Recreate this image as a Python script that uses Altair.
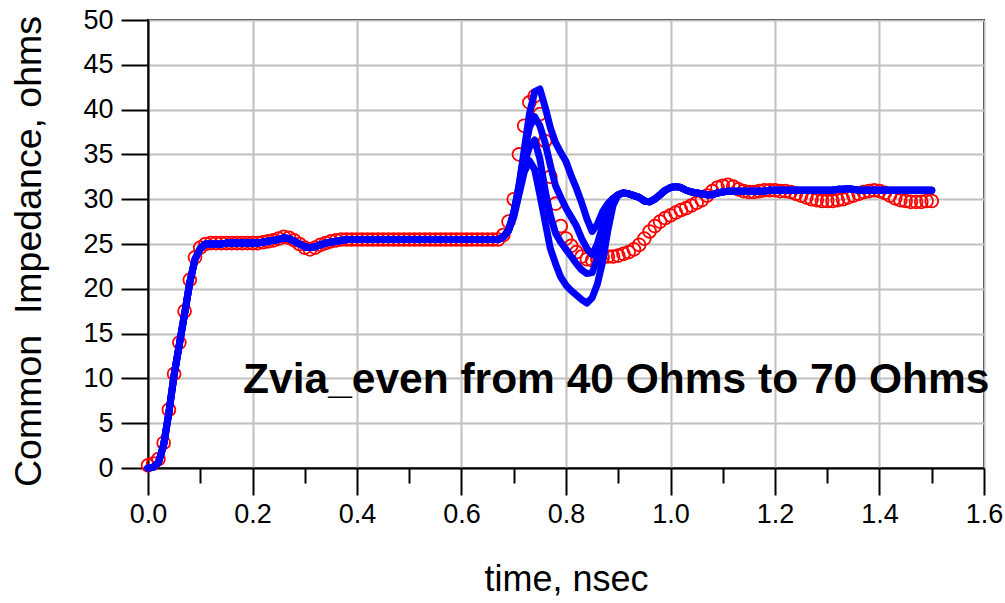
import altair as alt
import pandas as pd

# ---------------- data ----------------
# sampling grid (ns), 0.00 .. 1.50 every 0.01
times = [round(i * 0.01, 2) for i in range(151)]

# measured (red circles), t = 0.00 .. 1.50
red_values = [
    0.3, 0.5, 1.0, 2.8, 6.5, 10.5, 14.0, 17.5, 21.0, 23.5,
    24.6, 25.0, 25.1, 25.1, 25.1, 25.1, 25.1, 25.1, 25.1, 25.1,
    25.1, 25.1, 25.2, 25.3, 25.4, 25.6, 25.8, 25.7, 25.4, 25.0,
    24.6, 24.4, 24.6, 24.9, 25.1, 25.3, 25.4, 25.5, 25.5, 25.5,
    25.5, 25.5, 25.5, 25.5, 25.5, 25.5, 25.5, 25.5, 25.5, 25.5,
    25.5, 25.5, 25.5, 25.5, 25.5, 25.5, 25.5, 25.5, 25.5, 25.5,
    25.5, 25.5, 25.5, 25.5, 25.5, 25.5, 25.5, 25.5, 26.0, 27.5,
    30.0, 35.0, 38.2, 40.8, 41.5, 39.5, 36.5, 32.5, 29.5, 27.0,
    25.6, 24.8, 24.1, 23.6, 23.3, 23.2, 23.3, 23.5, 23.6, 23.6,
    23.7, 23.9, 24.1, 24.4, 24.9, 25.6, 26.4, 27.0, 27.5, 27.9,
    28.2, 28.5, 28.8, 29.0, 29.3, 29.6, 29.9, 30.4, 30.9, 31.3,
    31.5, 31.6, 31.4, 31.1, 30.9, 30.8, 30.8, 30.9, 31.0, 31.0,
    31.0, 30.9, 30.9, 30.8, 30.6, 30.4, 30.2, 30.0, 29.9, 29.8,
    29.8, 29.8, 29.9, 30.0, 30.2, 30.4, 30.6, 30.8, 30.9, 31.0,
    30.9, 30.7, 30.4, 30.1, 29.9, 29.8, 29.7, 29.7, 29.7, 29.8,
    29.8,
]

# simulated (blue lines): shared part t = 0.00 .. 0.68
blue_head = [
    0.0, 0.1, 0.6, 2.6, 6.2, 10.4, 13.8, 17.2, 20.7, 23.3,
    24.5, 25.0, 25.0, 25.0, 25.0, 25.1, 25.1, 25.1, 25.1, 25.1,
    25.1, 25.1, 25.2, 25.3, 25.4, 25.5, 25.7, 25.6, 25.3, 25.0,
    24.7, 24.6, 24.7, 24.9, 25.1, 25.2, 25.3, 25.4, 25.5, 25.5,
    25.5, 25.5, 25.5, 25.5, 25.5, 25.5, 25.5, 25.5, 25.5, 25.5,
    25.5, 25.5, 25.5, 25.5, 25.5, 25.5, 25.5, 25.5, 25.5, 25.5,
    25.5, 25.5, 25.5, 25.5, 25.5, 25.5, 25.5, 25.5, 25.8,
]
# individual parts t = 0.69 .. 0.89, one per via impedance
blue_mid_a = [26.5, 28.5, 31.5, 35.5, 39.5, 42.0, 42.3, 40.3, 38.0, 36.3, 35.2,
              34.2, 32.6, 31.2, 29.6, 27.8, 26.4, 27.2, 28.6, 29.5, 30.1]
blue_mid_b = [26.5, 28.5, 31.5, 35.0, 38.0, 39.2, 38.2, 36.3, 33.8, 31.5, 30.2,
              29.0, 28.0, 27.0, 25.6, 24.5, 23.8, 25.0, 27.0, 28.8, 30.0]
blue_mid_c = [26.5, 28.5, 31.0, 34.0, 35.8, 36.6, 34.5, 31.0, 28.2, 26.2, 25.2,
              24.4, 23.6, 22.8, 22.1, 21.7, 21.8, 23.3, 25.8, 28.0, 29.8]
blue_mid_d = [26.5, 28.0, 30.5, 33.0, 34.3, 33.3, 30.5, 27.5, 24.5, 22.8, 21.3,
              20.4, 19.8, 19.3, 18.8, 18.4, 19.0, 20.5, 23.0, 26.5, 29.3]
# shared part t = 0.90 .. 1.50
blue_tail = [
    30.5, 30.7, 30.6, 30.4, 30.2, 29.8, 29.7, 30.0, 30.5, 31.0,
    31.3, 31.4, 31.3, 31.0, 30.8, 30.7, 30.6, 30.5, 30.5, 30.7,
    30.8, 30.9, 30.9, 30.9, 30.9, 30.9, 30.9, 30.9, 30.9, 31.0,
    31.0, 31.0, 31.0, 31.0, 31.0, 31.0, 31.0, 31.0, 31.0, 31.0,
    31.0, 31.0, 31.1, 31.1, 31.2, 31.1, 31.0, 31.0, 31.0, 31.0,
    31.0, 31.0, 31.0, 31.0, 31.0, 31.0, 31.0, 31.0, 31.0, 31.0,
    31.0,
]
blue_names = ["Zvia 40", "Zvia 50", "Zvia 60", "Zvia 70"]
blue_mids = [blue_mid_d, blue_mid_c, blue_mid_b, blue_mid_a]

x_tick_values = [0.0, 0.1, 0.2, 0.3, 0.4, 0.5, 0.6, 0.7, 0.8, 0.9, 1.0,
                 1.1, 1.2, 1.3, 1.4, 1.5, 1.6]
y_tick_values = [0, 5, 10, 15, 20, 25, 30, 35, 40, 45, 50]

note_text = "Zvia_even from 40 Ohms to 70 Ohms"
note_x = 0.182
note_y = 8.4

# ---------------- tables ----------------
red_df = pd.DataFrame({"t": times, "z": red_values})
rows = []
for name, mid in zip(blue_names, blue_mids):
    vals = blue_head + mid + blue_tail
    for t, v in zip(times, vals):
        rows.append({"t": t, "z": v, "curve": name})
blue_df = pd.DataFrame(rows)
note_df = pd.DataFrame({"t": [note_x], "z": [note_y], "label": [note_text]})

FONT = "Liberation Sans, Arial"
minor = "round(datum.value * 10) % 2 == 1"

x_enc = alt.X(
    "t:Q",
    scale=alt.Scale(domain=[0, 1.6], nice=False, zero=False),
    axis=alt.Axis(
        values=x_tick_values,
        labelExpr="round(datum.value * 10) % 2 == 0 ? format(datum.value, '.1f') : ''",
        tickSize={"condition": {"test": minor, "value": 15}, "value": 27},
        gridOpacity={"condition": {"test": minor, "value": 0}, "value": 1},
        labelPadding=6,
        labelFlush=False,
        labelOverlap=False,
        title="time, nsec",
        titlePadding=35,
        titleFontSize=36,
    ),
)
y_enc = alt.Y(
    "z:Q",
    scale=alt.Scale(domain=[0, 50], nice=False),
    axis=alt.Axis(
        values=y_tick_values,
        tickSize=27,
        labelPadding=8,
        labelFlush=False,
        labelOverlap=False,
        title="Common\u00a0 Impedance, ohms",
        titlePadding=34,
        titleFontSize=37.5,
        titleY=231,
    ),
)

red = alt.Chart(red_df).mark_point(
    shape="circle", filled=False, color="#ff0000", size=165, strokeWidth=1.8, opacity=1
).encode(x=x_enc, y=y_enc)

blue = alt.Chart(blue_df).mark_line(
    color="#0000ff", strokeWidth=7, strokeCap="round", strokeJoin="round"
).encode(x="t:Q", y="z:Q", detail="curve:N")

note = alt.Chart(note_df).mark_text(
    align="left", baseline="alphabetic", fontSize=42.5, fontWeight="bold",
    font=FONT, color="black"
).encode(x="t:Q", y="z:Q", text="label:N")

chart = (
    alt.layer(red, blue, note)
    .properties(
        width=836,
        height=448,
        padding={"left": 148, "top": 20, "right": 21, "bottom": 135},
        autosize=alt.AutoSizeParams(type="none"),
        background="white",
    )
    .configure_view(stroke="black", strokeWidth=2)
    .configure_axis(
        domainColor="black",
        domainWidth=2,
        tickColor="black",
        tickWidth=2,
        gridColor="#c0c0c0",
        gridWidth=2,
        labelFont=FONT,
        labelFontSize=27,
        labelColor="black",
        titleFont=FONT,
        titleFontWeight="normal",
        titleColor="black",
    )
)

chart.save("out.html", embed_options={"renderer": "svg", "actions": False})
